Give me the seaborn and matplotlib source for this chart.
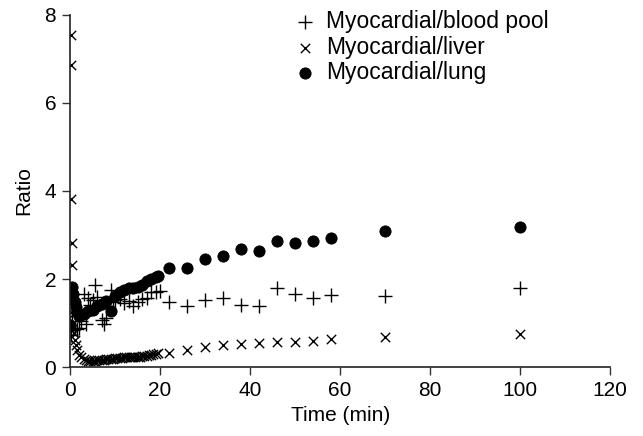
import numpy as np
import pandas as pd
import matplotlib
matplotlib.use("Agg")
import matplotlib.pyplot as plt
import seaborn as sns

sns.set_style("ticks")
plt.rcParams['font.family'] = ['Liberation Sans', 'DejaVu Sans']
plt.rcParams['text.color'] = 'black'
plt.rcParams['axes.labelcolor'] = 'black'
plt.rcParams['xtick.color'] = 'black'
plt.rcParams['ytick.color'] = 'black'

# Myocardial/blood pool
t_pool = [0, 0.25, 0.5, 0.75, 1, 1.5, 2, 2.5, 3, 3.5, 4, 4.5, 5, 5.5, 6, 7, 7.5, 8,
          9, 9.5, 10, 11, 12, 13, 14, 15, 16, 17, 18, 19, 20,
          22, 26, 30, 34, 38, 42, 46, 50, 54, 58, 70, 100]
v_pool = [0.95, 0.73, 1.22, 0.84, 0.88, 0.86, 0.88, 1.05, 1.67, 0.99, 1.57, 1.41, 1.52, 1.86, 1.6, 1.07, 0.97, 1.11,
          1.75, 1.48, 1.52, 1.55, 1.45, 1.5, 1.38, 1.48, 1.54, 1.56, 1.71, 1.7, 1.72,
          1.48, 1.39, 1.52, 1.58, 1.41, 1.39, 1.79, 1.65, 1.58, 1.64, 1.62, 1.79]

# Myocardial/liver
t_liver = [0.1, 0.2, 0.3, 0.4, 0.5, 0.75, 0.9, 1.1, 1.3, 1.6, 2, 2.5, 3, 3.5, 4, 4.5, 5, 5.5,
           6, 6.5, 7, 7.5, 8, 8.5, 9, 9.5, 10, 10.5, 11, 11.5, 12, 12.5, 13, 13.5, 14, 14.5,
           15, 15.5, 16, 16.5, 17, 17.5, 18, 18.5, 19, 19.5,
           22, 26, 30, 34, 38, 42, 46, 50, 54, 58, 70, 100]
v_liver = [7.55, 6.86, 3.82, 2.81, 2.32, 1.2, 0.77, 0.62, 0.5, 0.38, 0.28, 0.22, 0.18, 0.16, 0.15, 0.15, 0.15, 0.15,
           0.16, 0.16, 0.17, 0.17, 0.18, 0.18, 0.19, 0.19, 0.2, 0.2, 0.21, 0.21, 0.22, 0.22, 0.22, 0.23, 0.23, 0.23,
           0.24, 0.24, 0.25, 0.25, 0.26, 0.27, 0.28, 0.29, 0.3, 0.31,
           0.33, 0.39, 0.46, 0.5, 0.52, 0.54, 0.58, 0.58, 0.6, 0.64, 0.69, 0.76]

# Myocardial/lung
t_lung = [0, 0.25, 0.5, 0.75, 1, 1.25, 1.5, 2, 3, 4, 5, 6, 7, 8, 9, 10, 11, 12, 13, 14,
          15, 16, 17, 18, 19, 19.5,
          22, 26, 30, 34, 38, 42, 46, 50, 54, 58, 70, 100]
v_lung = [0.95, 1.55, 1.83, 1.65, 1.48, 1.36, 1.25, 1.15, 1.2, 1.27, 1.3, 1.38, 1.43, 1.5, 1.27, 1.62, 1.7, 1.75, 1.79, 1.79,
          1.83, 1.86, 1.95, 2.01, 2.05, 2.07,
          2.25, 2.25, 2.45, 2.52, 2.68, 2.64, 2.87, 2.81, 2.86, 2.93, 3.08, 3.19]

df_pool = pd.DataFrame({"Time": t_pool, "Ratio": v_pool})
df_liver = pd.DataFrame({"Time": t_liver, "Ratio": v_liver})
df_lung = pd.DataFrame({"Time": t_lung, "Ratio": v_lung})

fig = plt.figure(figsize=(6.43, 4.36), dpi=100)
ax = fig.add_axes([0.109, 0.158, 0.84, 0.808])

sns.scatterplot(data=df_pool, x="Time", y="Ratio", marker="+", color="black",
                s=90, linewidth=1, label="Myocardial/blood pool", ax=ax)
sns.scatterplot(data=df_liver, x="Time", y="Ratio", marker="x", color="black",
                s=45, linewidth=1, label="Myocardial/liver", ax=ax)
sns.scatterplot(data=df_lung, x="Time", y="Ratio", marker="o", color="black",
                s=65, edgecolor="black", label="Myocardial/lung", ax=ax)

ax.set_xlim(0, 120)
ax.set_ylim(0, 8)
ax.set_xticks(range(0, 121, 20))
ax.set_yticks(range(0, 9, 2))
ax.tick_params(labelsize=15, length=6, width=1, color="#333333", pad=4)
ax.set_xlabel("Time (min)", fontsize=15, labelpad=4)
ax.set_ylabel("Ratio", fontsize=15, labelpad=8)
sns.despine(ax=ax)
for sp in ["left", "bottom"]:
    ax.spines[sp].set_linewidth(1.2)
    ax.spines[sp].set_color("#222222")

ax.legend(loc="upper left", bbox_to_anchor=(0.393, 1.045), frameon=False,
          fontsize=16.5, handlelength=1.0, handletextpad=0.4, labelspacing=0.1,
          borderpad=0)

fig.savefig("out.png", dpi=100)
